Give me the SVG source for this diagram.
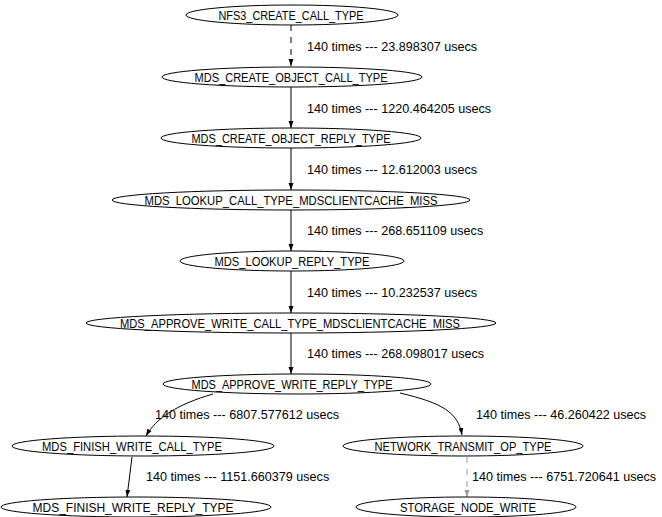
<svg xmlns="http://www.w3.org/2000/svg" width="662" height="517" viewBox="0 0 662 517">
<defs>
<marker id="ah" viewBox="0 0 10 10" refX="10" refY="5" markerWidth="7" markerHeight="7" markerUnits="userSpaceOnUse" orient="auto"><path d="M0,1.5 L10,5 L0,8.5 z" fill="#000"/></marker>
<marker id="ahg" viewBox="0 0 10 10" refX="10" refY="5" markerWidth="7" markerHeight="7" markerUnits="userSpaceOnUse" orient="auto"><path d="M0,1.5 L10,5 L0,8.5 z" fill="#999"/></marker>
</defs>
<style>
.n ellipse{fill:none;stroke:#000;stroke-width:1}
.n text{font-family:"Liberation Sans",Arial,sans-serif;font-size:12.5px;text-anchor:middle;fill:#000}
.e path{fill:none;stroke:#000;stroke-width:1;marker-end:url(#ah)}
.e path.g{stroke:#999;marker-end:url(#ahg)}
.e path.d{stroke-dasharray:6,6}
.e text{font-family:"Liberation Sans",Arial,sans-serif;font-size:12.6px;fill:#000}
</style>
<rect width="662" height="517" fill="#fff"/>
<g class="e" id="edges">
<path class="d" d="M291,25 L291,66"/>
<text x="307" y="51">140 times --- 23.898307 usecs</text>
<path d="M291,87 L291,128"/>
<text x="307" y="113">140 times --- 1220.464205 usecs</text>
<path d="M291,148 L291,190"/>
<text x="307" y="174">140 times --- 12.612003 usecs</text>
<path d="M291,210 L291,251"/>
<text x="307" y="235">140 times --- 268.651109 usecs</text>
<path d="M291,271 L291,313"/>
<text x="307" y="297">140 times --- 10.232537 usecs</text>
<path d="M291,333 L291,374"/>
<text x="307" y="358">140 times --- 268.098017 usecs</text>
<path d="M213,394 C178,404 156,418 146,436"/>
<text x="155" y="419">140 times --- 6807.577612 usecs</text>
<path d="M400,393 C442,403 458,412 462,435"/>
<text x="476" y="419">140 times --- 46.260422 usecs</text>
<path d="M132,457 L127,497"/>
<text x="146" y="481">140 times --- 1151.660379 usecs</text>
<path class="g d" d="M467,457 L467,497"/>
<text x="472" y="481">140 times --- 6751.720641 usecs</text>
</g>
<g class="n" id="n1"><ellipse cx="292" cy="15" rx="106" ry="10"/><text x="291" y="20" textLength="145" lengthAdjust="spacingAndGlyphs">NFS3_CREATE_CALL_TYPE</text></g>
<g class="n" id="n2"><ellipse cx="292" cy="77" rx="130" ry="10"/><text x="291" y="82" textLength="193" lengthAdjust="spacingAndGlyphs">MDS_CREATE_OBJECT_CALL_TYPE</text></g>
<g class="n" id="n3"><ellipse cx="291" cy="138" rx="130" ry="10"/><text x="291" y="143" textLength="199" lengthAdjust="spacingAndGlyphs">MDS_CREATE_OBJECT_REPLY_TYPE</text></g>
<g class="n" id="n4"><ellipse cx="291" cy="200" rx="179" ry="10"/><text x="291" y="205" textLength="293" lengthAdjust="spacingAndGlyphs">MDS_LOOKUP_CALL_TYPE_MDSCLIENTCACHE_MISS</text></g>
<g class="n" id="n5"><ellipse cx="292" cy="261" rx="112" ry="10"/><text x="292" y="266" textLength="155" lengthAdjust="spacingAndGlyphs">MDS_LOOKUP_REPLY_TYPE</text></g>
<g class="n" id="n6"><ellipse cx="291" cy="323" rx="205" ry="10"/><text x="290" y="328" textLength="340" lengthAdjust="spacingAndGlyphs">MDS_APPROVE_WRITE_CALL_TYPE_MDSCLIENTCACHE_MISS</text></g>
<g class="n" id="n7"><ellipse cx="297" cy="384" rx="134" ry="10"/><text x="292" y="389" textLength="201" lengthAdjust="spacingAndGlyphs">MDS_APPROVE_WRITE_REPLY_TYPE</text></g>
<g class="n" id="n8"><ellipse cx="143" cy="446" rx="131" ry="10"/><text x="132" y="451" textLength="180" lengthAdjust="spacingAndGlyphs">MDS_FINISH_WRITE_CALL_TYPE</text></g>
<g class="n" id="n9"><ellipse cx="463" cy="446" rx="120" ry="10"/><text x="463" y="451" textLength="177" lengthAdjust="spacingAndGlyphs">NETWORK_TRANSMIT_OP_TYPE</text></g>
<g class="n" id="n10"><ellipse cx="136" cy="507" rx="135" ry="10"/><text x="133" y="512" textLength="201" lengthAdjust="spacingAndGlyphs">MDS_FINISH_WRITE_REPLY_TYPE</text></g>
<g class="n" id="n11"><ellipse cx="466" cy="507" rx="110" ry="10"/><text x="468" y="512" textLength="136" lengthAdjust="spacingAndGlyphs">STORAGE_NODE_WRITE</text></g>
</svg>
